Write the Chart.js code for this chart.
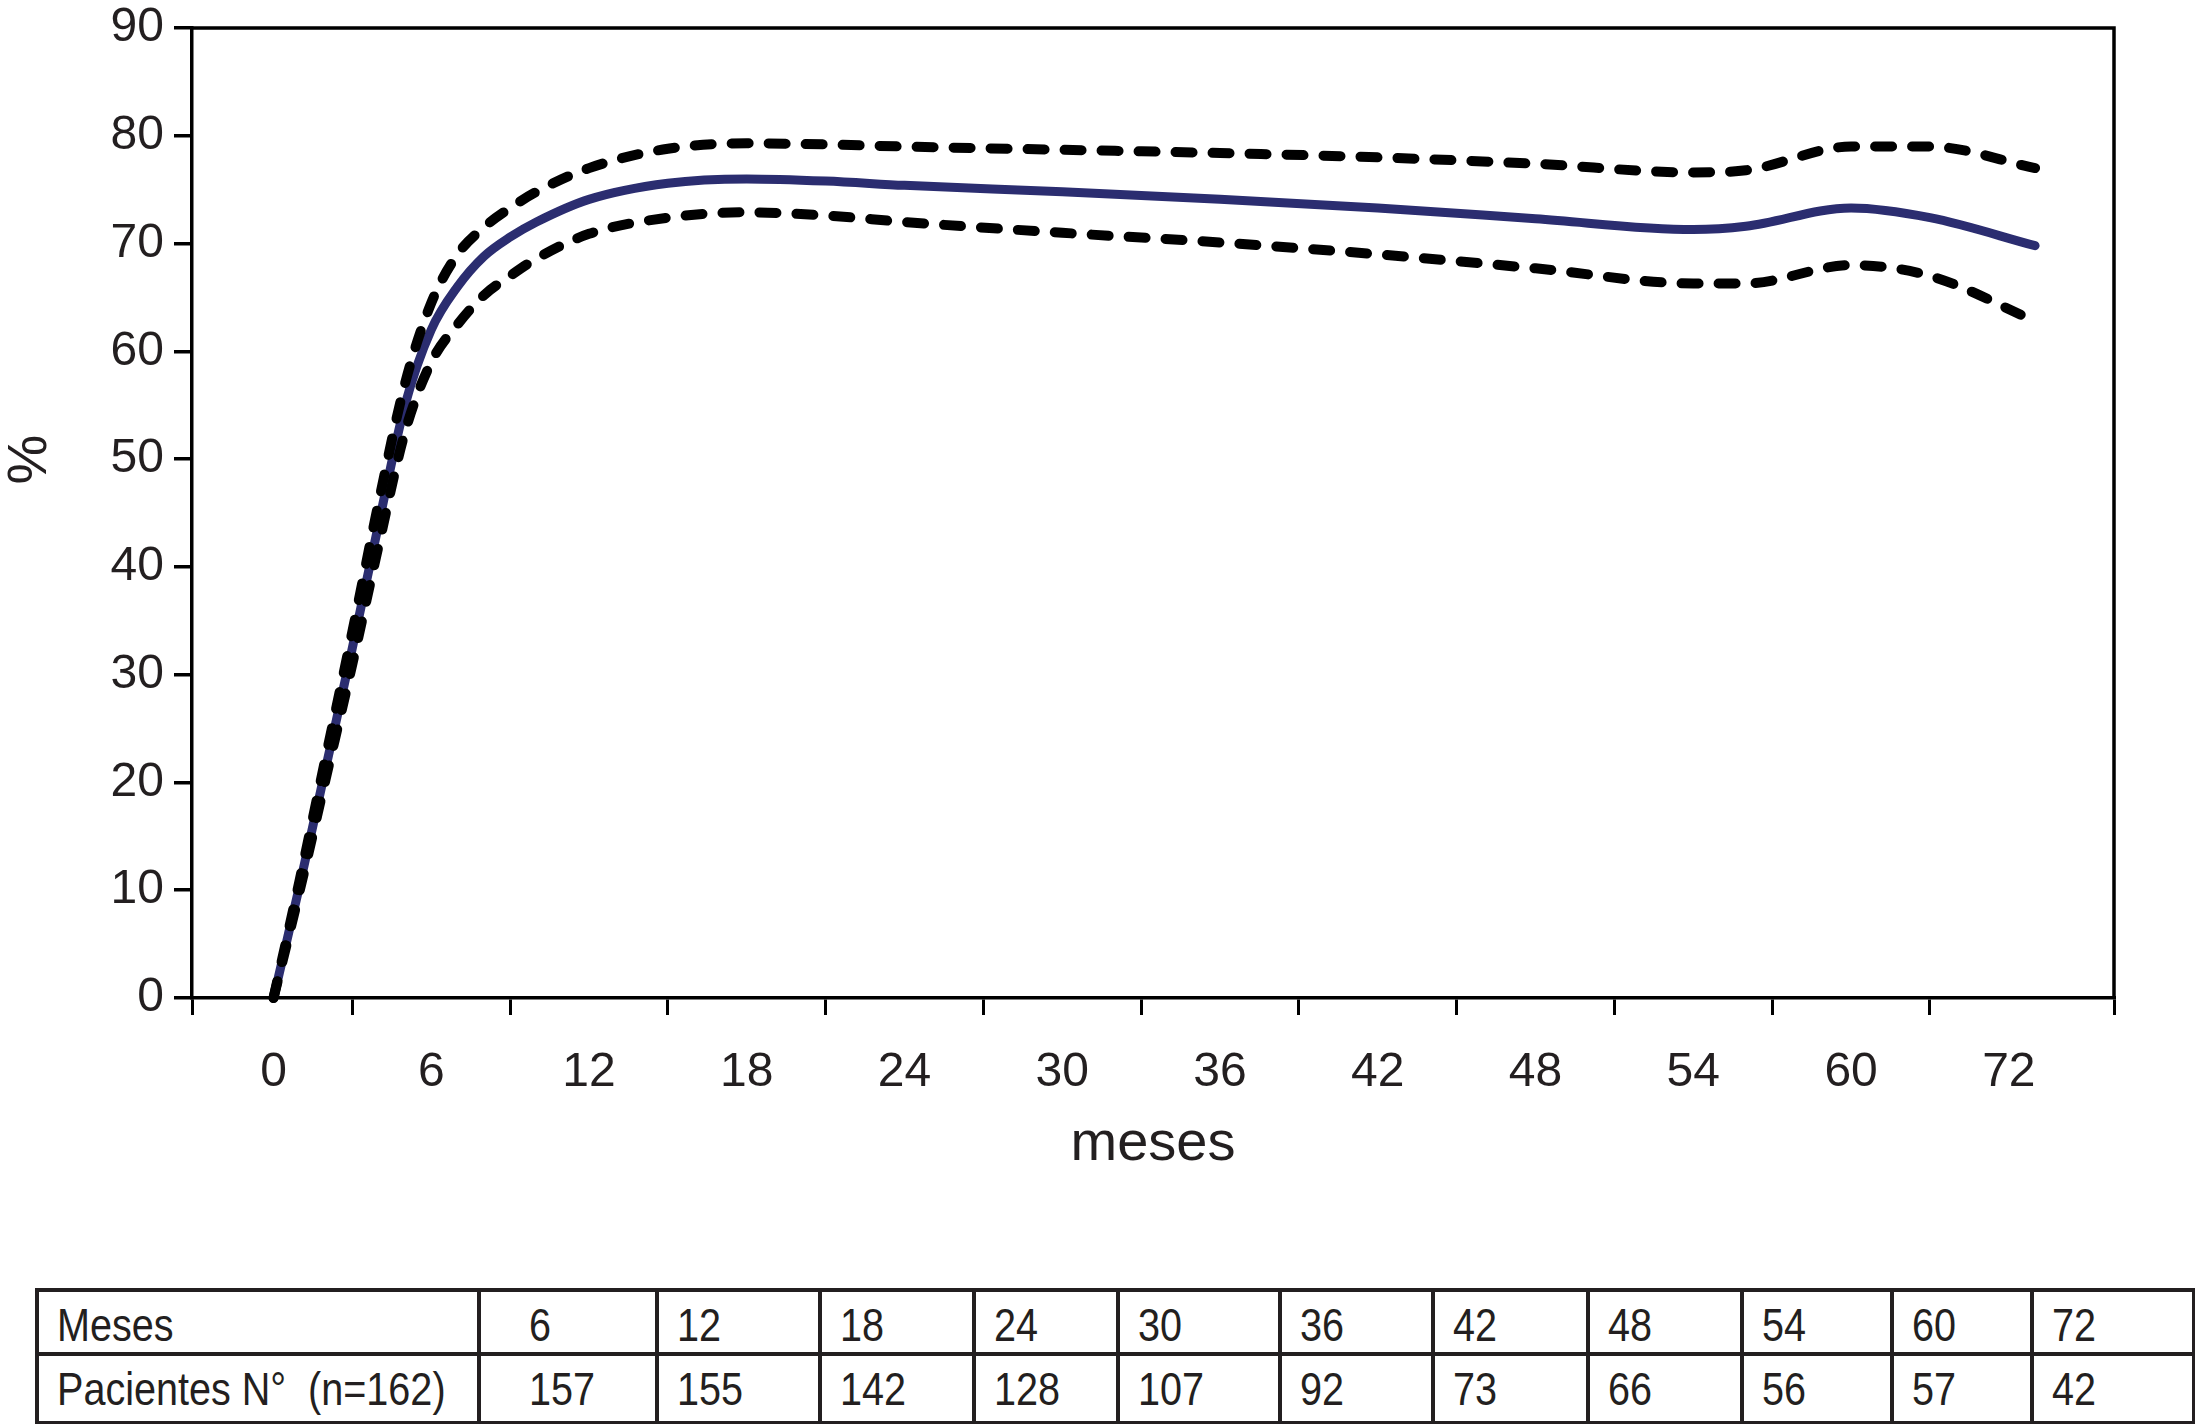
<!DOCTYPE html>
<html>
<head>
<meta charset="utf-8">
<script src="https://cdn.jsdelivr.net/npm/chart.js@4/dist/chart.umd.min.js"></script>
<style>
  body { margin: 0; background: #fff; }
  #wrap { position: relative; width: 2195px; height: 1424px; }
  #chart { position: absolute; left: 0; top: 0; }
  #tabla {
    position: absolute; left: 35px; top: 1288px; width: 2157px;
    border-collapse: collapse; table-layout: fixed;
    font-family: 'Liberation Sans', Arial, sans-serif;
    font-size: 46px; color: #231f20;
  }
  #tabla td { border: 4px solid #231f20; padding: 0 0 0 18px; text-align: left; line-height: 1; white-space: nowrap; overflow: hidden; }
  #tabla td span { display: inline-block; transform: scaleX(0.86); transform-origin: left center; }
  #tabla tr.r1 { height: 64px; }
  #tabla tr.r2 { height: 69px; }
  #tabla tr.r1 td { padding-top: 6px; }
</style>
</head>
<body>
<div id="wrap">
  <canvas id="chart" width="2195" height="1210"></canvas>
  <table id="tabla"></table>
</div>
<script>
// months (curve position) and estimated values
const months   = [0, 1, 2, 3, 4, 5, 6, 7, 8, 9, 10, 12, 15, 18, 21, 24, 30, 36, 42, 48, 54, 56, 60, 63, 67];
const survival = [0, 10.5, 21.5, 32.5, 44, 55, 62, 66, 68.8, 70.6, 72, 74.1, 75.6, 76, 75.8, 75.4, 74.8, 74.1, 73.3, 72.3, 71.3, 71.6, 73.3, 72.4, 69.8];
const upperCI  = [0, 11, 22.5, 34, 46, 57, 64.5, 69, 71.5, 73.3, 74.8, 77, 78.8, 79.3, 79.2, 79, 78.7, 78.4, 78, 77.4, 76.6, 76.8, 79, 79, 77];
const lowerCI  = [0, 10, 20.5, 31, 42, 52.5, 59, 62.5, 65.2, 67, 68.6, 70.9, 72.4, 72.9, 72.6, 72, 71, 70.1, 69, 67.7, 66.3, 66.3, 68, 67, 62.8];

const xTickLabels = ['0', '6', '12', '18', '24', '30', '36', '42', '48', '54', '60', '72'];
const yTicks = [0, 10, 20, 30, 40, 50, 60, 70, 80, 90];

// table under the chart
const tablaMeses = ['6', '12', '18', '24', '30', '36', '42', '48', '54', '60', '72'];
const tablaPacientes = ['157', '155', '142', '128', '107', '92', '73', '66', '56', '57', '42'];

const FONT = "'Liberation Sans', Arial, sans-serif";
const INK = '#231f20';

function pts(vals) {
    return months.map((m, i) => ({ x: m, y: vals[i] }));
}

// top/right frame of the plot box and the rotated "%" label
const frame = {
    id: 'frame',
    afterDatasetsDraw(chart) {
        const a = chart.chartArea;
        const c = chart.ctx;
        c.save();
        c.strokeStyle = '#000';
        c.lineWidth = 3.5;
        c.beginPath();
        c.moveTo(a.left, a.top);
        c.lineTo(a.right, a.top);
        c.lineTo(a.right, a.bottom);
        c.stroke();

        c.translate(31, a.top + a.height * 0.445);
        c.rotate(-Math.PI / 2);
        c.fillStyle = INK;
        c.font = '56px ' + FONT;
        c.textAlign = 'center';
        c.textBaseline = 'middle';
        c.fillText('%', 0, 0);
        c.restore();
    }
};

const dashed = {
    borderColor: '#000',
    borderWidth: 10,
    borderDash: [17, 20],
    borderCapStyle: 'round',
    pointRadius: 0,
    cubicInterpolationMode: 'monotone',
    clip: false
};

new Chart(document.getElementById('chart'), {
    type: 'line',
    data: {
        datasets: [
            Object.assign({ label: 'IC superior', data: pts(upperCI) }, dashed),
            Object.assign({ label: 'IC inferior', data: pts(lowerCI) }, dashed),
            {
                label: 'Supervivencia',
                data: pts(survival),
                borderColor: '#2b2d70',
                borderWidth: 9,
                borderCapStyle: 'round',
                pointRadius: 0,
                cubicInterpolationMode: 'monotone',
                clip: false
            }
        ]
    },
    plugins: [frame],
    options: {
        responsive: false,
        animation: false,
        devicePixelRatio: 1,
        layout: { padding: { top: 28, right: 81, left: 0, bottom: 0 } },
        plugins: { legend: { display: false }, tooltip: { enabled: false } },
        scales: {
            x: {
                type: 'linear',
                min: -3.1,
                max: 70,
                afterBuildTicks(scale) {
                    const t = [{ value: -3.1 }];
                    xTickLabels.forEach((l, i) => {
                        t.push({ value: i * 6 });
                        if (i * 6 + 3 < 66) t.push({ value: i * 6 + 3 });
                    });
                    t.push({ value: 70 });
                    t.sort((a, b) => a.value - b.value);
                    scale.ticks = t;
                },
                afterFit(scale) { scale.height = 212; scale.paddingLeft = 0; scale.paddingRight = 0; },
                ticks: {
                    autoSkip: false,
                    maxRotation: 0,
                    padding: 29,
                    color: INK,
                    font: { family: FONT, size: 48 },
                    callback(v) {
                        if (v >= 0 && v <= 66 && v % 6 === 0) return xTickLabels[v / 6];
                        return '';
                    }
                },
                grid: {
                    drawOnChartArea: false,
                    tickLength: 17,
                    lineWidth: 3,
                    color(ctx) {
                        const v = ctx.tick ? ctx.tick.value : 1;
                        return (v >= 0 && v <= 66 && v % 6 === 0) ? 'rgba(0,0,0,0)' : '#000';
                    }
                },
                border: { color: '#000', width: 3.5 },
                title: {
                    display: true,
                    text: 'meses',
                    color: INK,
                    font: { family: FONT, size: 56 },
                    padding: { top: 0, bottom: 32 }
                }
            },
            y: {
                min: 0,
                max: 90,
                afterBuildTicks(scale) {
                    scale.ticks = yTicks.map(v => ({ value: v }));
                },
                afterFit(scale) { scale.width = 192; scale.paddingTop = 0; scale.paddingBottom = 0; },
                ticks: {
                    padding: 10,
                    color: INK,
                    font: { family: FONT, size: 48 }
                },
                grid: {
                    drawOnChartArea: false,
                    tickLength: 18,
                    lineWidth: 3.5,
                    color: '#000'
                },
                border: { color: '#000', width: 3.5 }
            }
        }
    }
});

// build the patients table from the arrays
const colW = [442, 178, 163, 154, 144, 162, 153, 155, 154, 150, 140, 162];
const tabla = document.getElementById('tabla');
const cg = document.createElement('colgroup');
colW.forEach(w => {
    const c = document.createElement('col');
    c.style.width = w + 'px';
    cg.appendChild(c);
});
tabla.appendChild(cg);

function cell(text) {
    const td = document.createElement('td');
    const s = document.createElement('span');
    s.textContent = text;
    td.appendChild(s);
    return td;
}

[['Meses', tablaMeses, 'r1'], ['Pacientes N\u00b0\u00a0\u00a0(n=162)', tablaPacientes, 'r2']].forEach(([head, vals, cls]) => {
    const tr = document.createElement('tr');
    tr.className = cls;
    tr.appendChild(cell(head));
    vals.forEach((v, i) => {
        const td = cell(v);
        if (i === 0) td.style.paddingLeft = '48px';
        tr.appendChild(td);
    });
    tabla.appendChild(tr);
});
</script>
</body>
</html>
